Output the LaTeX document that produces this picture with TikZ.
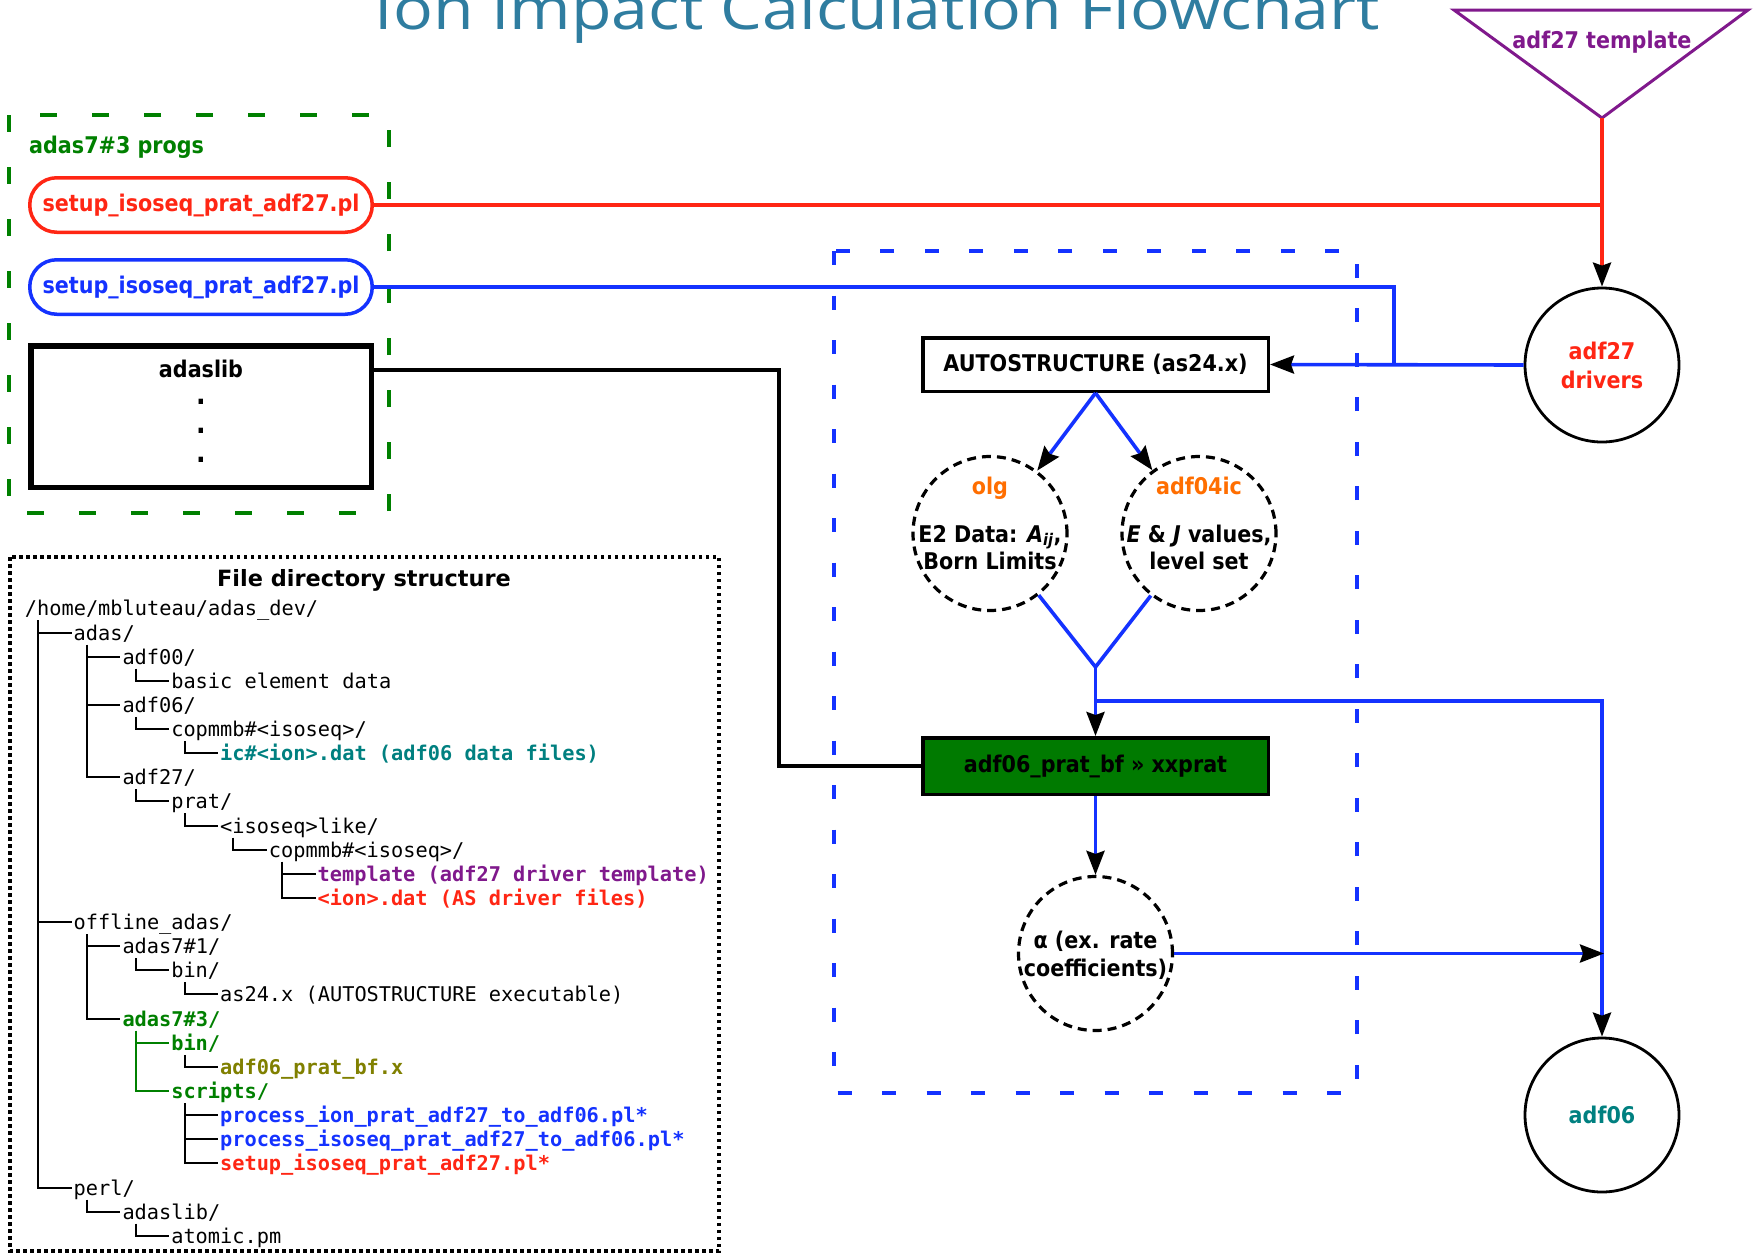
\documentclass[tikz,border=0pt]{standalone}
\usepackage{fontspec}
\setmainfont{DejaVu Sans Condensed}[BoldFont={DejaVu Sans Condensed Bold},ItalicFont={DejaVu Sans Condensed Oblique},BoldItalicFont={DejaVu Sans Condensed Bold Oblique}]
\setmonofont{DejaVu Sans Mono}
\newfontfamily\titlefont{Open Sans}
\newfontfamily\dvsans{DejaVu Sans}
\usetikzlibrary{arrows.meta,calc}
\definecolor{cred}{RGB}{255,38,20}
\definecolor{cblue}{RGB}{20,50,255}
\definecolor{cgreen}{RGB}{0,128,0}
\definecolor{cgreenfill}{RGB}{0,122,0}
\definecolor{corange}{RGB}{255,110,0}
\definecolor{cpurple}{RGB}{128,25,140}
\definecolor{cteal}{RGB}{0,128,128}
\definecolor{colive}{RGB}{128,128,0}
\definecolor{ctitle}{RGB}{47,125,160}
\newcommand\trow[4][]{\node[treetxt,#1] (r#2) at ({24.7+48.8*#3},{608.4+24.13*(#2-1)+7.5}) {#4};}
\newcommand\tvert[4][]{\draw[tline,#1] ({38.1+48.8*(#4-1)},{608.4+24.13*(#2-1)+12}) |- ({22.7+48.8*#4},{608.4+24.13*(#3-1)});}
\newcommand\ttee[3][]{\draw[tline,#1] ({38.1+48.8*(#3-1)},{608.4+24.13*(#2-1)}) -- ({22.7+48.8*#3},{608.4+24.13*(#2-1)});}
\begin{document}
\begin{tikzpicture}[x=1pt,y=-1pt,
  lbl/.style={font=\fontsize{23}{27}\selectfont\bfseries,inner sep=0pt},
  treetxt/.style={font=\fontsize{20.3}{24}\selectfont\ttfamily,inner sep=0pt,anchor=base west},
  tb/.style={font=\fontsize{20.3}{24}\selectfont\ttfamily\bfseries},
  tline/.style={line width=2pt},
  pill/.style={draw,line width=3.5pt,rounded corners=27pt,minimum width=342.5pt,minimum height=54.5pt,inner sep=0pt,font=\fontsize{23}{27}\selectfont\bfseries},
  boxst/.style={draw,line width=3.5pt,minimum width=345.5pt,minimum height=53.5pt,inner sep=0pt,font=\fontsize{23}{27}\selectfont\bfseries},
  solidcirc/.style={draw,circle,line width=2.8pt,minimum size=154pt,inner sep=0pt},
  dashcirc/.style={draw,circle,line width=3.2pt,dash pattern=on 9pt off 6pt,minimum size=154pt,inner sep=0pt},
  bconn/.style={cblue,line width=3.6pt},
  rconn/.style={cred,line width=3.6pt},
  kconn/.style={black,line width=3.2pt},
  arr/.style={-{Stealth[length=24pt,width=18pt,inset=3pt,color=black,fill=black]}}
]
\fill[white] (0,0) rectangle (1757,1254);
\useasboundingbox (0,0) rectangle (1757,1254);

% title
\node[anchor=base,text=ctitle,inner sep=0pt] (title) at (877.5,29) {\resizebox{1005pt}{\height}{\titlefont\fontsize{58}{62}\selectfont Ion Impact Calculation Flowchart}};

% adas7#3 progs group
\draw[cgreen,line width=4pt,dash pattern=on 17pt off 35pt] (9,115) rectangle (389,513);
\node[lbl,text=cgreen,anchor=base west] (progs) at (29,153) {adas7\#3 progs};
\node[pill,draw=cred,text=cred] (redpill) at (201,205) {setup\_isoseq\_prat\_adf27.pl};
\node[pill,draw=cblue,text=cblue] (bluepill) at (201,287) {setup\_isoseq\_prat\_adf27.pl};
\node[draw,line width=5.5pt,minimum width=340.5pt,minimum height=141.5pt,inner sep=0pt] (adaslib) at (201,416.5) {};
\node[lbl,anchor=base] (adaslibt) at (201,377) {adaslib};
\node[lbl,anchor=base,font=\fontsize{28}{30}\selectfont\bfseries] (dot1) at (201,404) {.};
\node[lbl,anchor=base,font=\fontsize{28}{30}\selectfont\bfseries] (dot2) at (201,433) {.};
\node[lbl,anchor=base,font=\fontsize{28}{30}\selectfont\bfseries] (dot3) at (201,462) {.};

% template triangle
\coordinate (tribot) at (1602,118);
\draw[cpurple,line width=3pt] (1454,10) -- (1748,10) -- (tribot) -- cycle;
\node[lbl,text=cpurple,anchor=base] (tmpl) at (1602,48) {adf27 template};

% drivers
\node[solidcirc] (drivers) at (1602,365) {};
\node[lbl,text=cred,anchor=base] (drv1) at (1602,359) {adf27};
\node[lbl,text=cred,anchor=base] (drv2) at (1602,388) {drivers};

% blue dashed group
\draw[cblue,line width=3.6pt,dash pattern=on 14pt off 30.5pt] (834,251) rectangle (1357,1093);
\node[boxst] (auto) at (1095.5,364.5) {AUTOSTRUCTURE (as24.x)};
\node[dashcirc] (olg) at (990,533.5) {};
\node[lbl,text=corange,anchor=base] (olgt) at (990,494) {olg};
\node[lbl,anchor=base] (olg1) at (990,542) {E2 Data: \textit{A}\textsubscript{\textit{ij}},};
\node[lbl,anchor=base] (olg2) at (990,569) {Born Limits};
\node[dashcirc] (f04) at (1199,533.5) {};
\node[lbl,text=corange,anchor=base] (f04t) at (1199,494) {adf04ic};
\node[lbl,anchor=base] (f041) at (1199,542) {\textit{E} \& \textit{J} values,};
\node[lbl,anchor=base] (f042) at (1199,569) {level set};
\coordinate (merge) at (1095.5,667);
\coordinate (br) at (1095.5,701);
\node[boxst,fill=cgreenfill,minimum height=56.5pt] (green) at (1095.5,766) {adf06\_prat\_bf » xxprat};
\node[dashcirc] (alpha) at (1095.5,953.5) {};
\node[lbl,anchor=base] (al1) at (1095.5,948) {α (ex. rate};
\node[lbl,anchor=base] (al2) at (1095.5,976) {coefficients)};
\coordinate (aend) at (1604,953.5);

% adf06
\node[solidcirc] (adf06) at (1602,1115) {};
\node[lbl,text=cteal,anchor=base] (adf06t) at (1602,1123) {adf06};

% connectors
\coordinate (rj) at (1602,205);
\coordinate (bj) at (1394,364.5);
\coordinate (kb) at (779,766);
\draw[rconn] (redpill.east) -- (rj);
\draw[rconn,arr] (tribot) -- (drivers.north);
\draw[bconn] (bluepill.east) -| (bj);
\draw[bconn,arr] (drivers.west) -- (auto.east);
\draw[kconn] ([yshift=-27pt]adaslib.north east) -| (kb) -- (green.west);
\draw[bconn,arr] (auto.south) -- (olg);
\draw[bconn,arr] (auto.south) -- (f04);
\draw[bconn] (olg) -- (merge) -- (f04);
\draw[bconn,arr] (merge) -- (green.north);
\draw[bconn,arr] (br) -| (adf06.north);
\draw[bconn,arr] (green.south) -- (alpha.north);
\draw[bconn,arr] (alpha.east) -- (aend);

% file directory structure
\draw[black,line width=3.5pt,dash pattern=on 3.5pt off 3.5pt] (10,557) rectangle (719,1251);
\node[font=\dvsans\bfseries\fontsize{22.4}{26}\selectfont,anchor=base,inner sep=0pt] (fdtitle) at (364,586) {File directory structure};
\trow{1}{0}{/home/mbluteau/adas\_dev/}
\trow{2}{1}{adas/}
\trow{3}{2}{adf00/}
\trow{4}{3}{basic element data}
\trow{5}{2}{adf06/}
\trow{6}{3}{copmmb\#<isoseq>/}
\trow[tb,text=cteal]{7}{4}{ic\#<ion>.dat (adf06 data files)}
\trow{8}{2}{adf27/}
\trow{9}{3}{prat/}
\trow{10}{4}{<isoseq>like/}
\trow{11}{5}{copmmb\#<isoseq>/}
\trow[tb,text=cpurple]{12}{6}{template (adf27 driver template)}
\trow[tb,text=cred]{13}{6}{<ion>.dat (AS driver files)}
\trow{14}{1}{offline\_adas/}
\trow{15}{2}{adas7\#1/}
\trow{16}{3}{bin/}
\trow{17}{4}{as24.x (AUTOSTRUCTURE executable)}
\trow[tb,text=cgreen]{18}{2}{adas7\#3/}
\trow[tb,text=cgreen]{19}{3}{bin/}
\trow[tb,text=colive]{20}{4}{adf06\_prat\_bf.x}
\trow[tb,text=cgreen]{21}{3}{scripts/}
\trow[tb,text=cblue]{22}{4}{process\_ion\_prat\_adf27\_to\_adf06.pl*}
\trow[tb,text=cblue]{23}{4}{process\_isoseq\_prat\_adf27\_to\_adf06.pl*}
\trow[tb,text=cred]{24}{4}{setup\_isoseq\_prat\_adf27.pl*}
\trow{25}{1}{perl/}
\trow{26}{2}{adaslib/}
\trow{27}{3}{atomic.pm}
% tree lines
\tvert{1}{25}{1}
\ttee{2}{1}\ttee{14}{1}
\tvert{2}{8}{2}
\ttee{3}{2}\ttee{5}{2}
\tvert{3}{4}{3}
\tvert{5}{6}{3}
\tvert{6}{7}{4}
\tvert{8}{9}{3}
\tvert{9}{10}{4}
\tvert{10}{11}{5}
\tvert{11}{13}{6}
\ttee{12}{6}
\tvert{14}{18}{2}
\ttee{15}{2}
\tvert{15}{16}{3}
\tvert{16}{17}{4}
\tvert[cgreen]{18}{21}{3}
\ttee[cgreen]{19}{3}
\tvert{19}{20}{4}
\tvert{21}{24}{4}
\ttee{22}{4}\ttee{23}{4}
\tvert{25}{26}{2}
\tvert{26}{27}{3}
\end{tikzpicture}
\end{document}
